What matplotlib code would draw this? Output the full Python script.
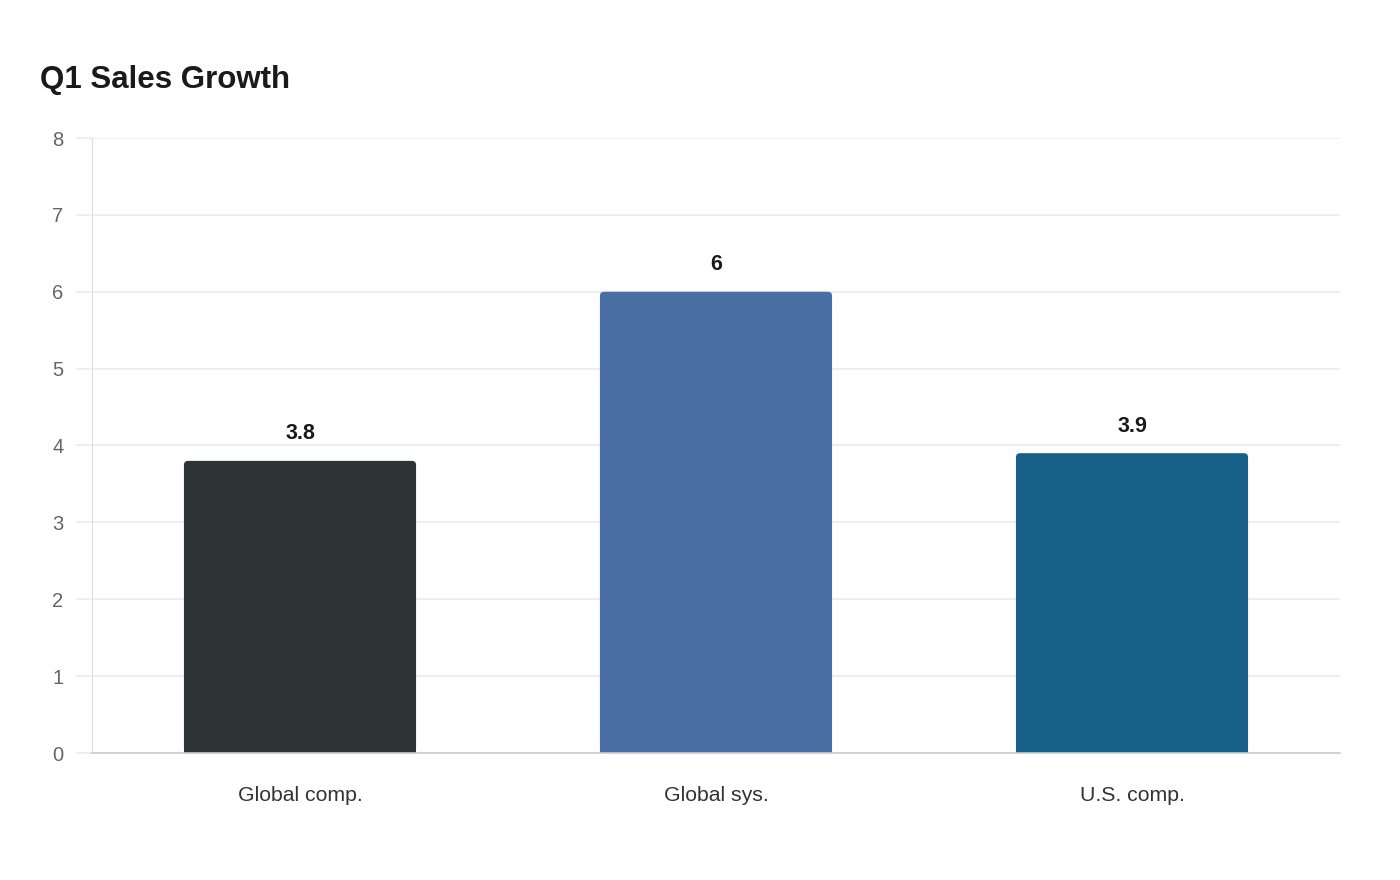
import matplotlib.pyplot as plt
from matplotlib.patches import FancyBboxPatch

plt.rcParams['font.family'] = ['Liberation Sans', 'DejaVu Sans']

categories = ['Global comp.', 'Global sys.', 'U.S. comp.']
growth = [3.8, 6, 3.9]
labels = ['3.8', '6', '3.9']
colors = ['#2d3436', '#4a6fa5', '#176087']

fig = plt.figure(figsize=(14, 8.8), dpi=100)
ax = fig.add_axes([92/1400, 1-753/880, 1248/1400, 615/880])

bars = ax.bar(range(len(categories)), growth, width=0.558, color=colors, zorder=2)

# rounded top corners
for b, c in zip(bars, colors):
    x, y = b.get_x(), b.get_y()
    w, h = b.get_width(), b.get_height()
    ax.add_patch(FancyBboxPatch((x, y), w, h,
                                boxstyle='round,pad=0,rounding_size=0.01',
                                mutation_aspect=5.4, facecolor=c,
                                edgecolor='none', zorder=2))
    b.set_height(h / 2)

for i, (v, t) in enumerate(zip(growth, labels)):
    ax.annotate(t, (i, v), xytext=(0, 19.5), textcoords='offset points',
                ha='center', va='center', fontsize=15.5, fontweight='bold',
                color='#1a1a1a')

ax.set_xlim(-0.5, 2.5)
ax.set_ylim(0, 8)
ax.set_yticks(range(0, 9))
ax.set_xticks(range(len(categories)))
ax.set_xticklabels(categories)

ax.grid(axis='y', color='#ebebeb', linewidth=1.2, zorder=0)
ax.set_axisbelow(True)
for s in ['top', 'right']:
    ax.spines[s].set_visible(False)
ax.spines['left'].set_color('#dddddd')
ax.spines['bottom'].set_color('#cccccc')
ax.spines['bottom'].set_linewidth(1.2)

ax.tick_params(axis='y', length=11.5, color='#ebebeb', width=1.2,
               labelsize=14.5, labelcolor='#666666', pad=9)
ax.tick_params(axis='x', length=0, labelsize=15.3, labelcolor='#333333', pad=24)

fig.text(40/1400, 1-80/880, 'Q1 Sales Growth', fontsize=22.5, fontweight='bold',
         color='#1a1a1a', va='center', ha='left')

fig.savefig('out.png', dpi=100, facecolor='white')
